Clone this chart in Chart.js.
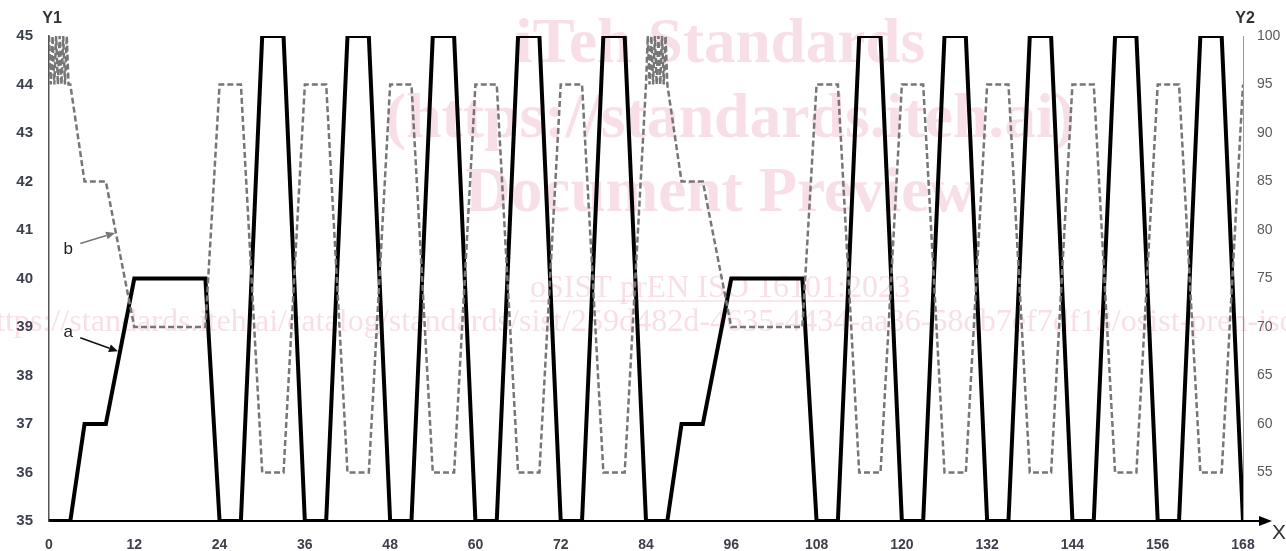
<!DOCTYPE html>
<html>
<head>
<meta charset="utf-8">
<script src="https://cdn.jsdelivr.net/npm/chart.js@4.4.1/dist/chart.umd.min.js"></script>
<style>
  html, body { margin: 0; padding: 0; background: #fff; }
  #wrap { width: 1286px; height: 551px; }
</style>
</head>
<body>
<div id="wrap"><canvas id="c" width="1286" height="551"></canvas></div>
<script>
// ---- Data ----
const xTicks = [0, 12, 24, 36, 48, 60, 72, 84, 96, 108, 120, 132, 144, 156, 168];
const y1Ticks = [35, 36, 37, 38, 39, 40, 41, 42, 43, 44, 45];
const y2Ticks = [55, 60, 65, 70, 75, 80, 85, 90, 95, 100];

// curve a (left axis Y1)
const aX = [0,3,5,8,12,22,24,27,30,33,36,39,42,45,48,51,54,57,60,63,66,69,72,75,78,81,
            84,87,89,92,96,106,108,111,114,117,120,123,126,129,132,135,138,141,144,147,150,153,156,159,162,165,168];
const aY = [35,35,37,37,40,40,35,35,45,45,35,35,45,45,35,35,45,45,35,35,45,45,35,35,45,45,
            35,35,37,37,40,40,35,35,45,45,35,35,45,45,35,35,45,45,35,35,45,45,35,35,45,45,35];

// curve b (right axis Y2)
const bX = [0,0.25,0.5,0.75,1,1.25,1.5,1.75,2,2.25,2.5,2.75,3,
            5,8,12,22,24,27,30,33,36,39,42,45,48,51,54,57,60,63,66,69,72,75,78,81,84,
            84.25,84.5,84.75,85,85.25,85.5,85.75,86,86.25,86.5,86.75,87,
            89,92,96,106,108,111,114,117,120,123,126,129,132,135,138,141,144,147,150,153,156,159,162,165,168];
const bY = [100,95,100,95,100,95,100,95,100,95,100,95,95,
            85,85,70,70,95,95,55,55,95,95,55,55,95,95,55,55,95,95,55,55,95,95,55,55,95,
            100,95,100,95,100,95,100,95,100,95,100,95,
            85,85,70,70,95,95,55,55,95,95,55,55,95,95,55,55,95,95,55,55,95,95,55,55,95];

// annotation anchors (data units: x, Y1)
const labelA = { text: 'a', x: 2.7, y: 38.9, tailX: 4.4, tailY: 38.78, tipX: 9.7, tipY: 38.5 };
const labelB = { text: 'b', x: 2.7, y: 40.6, tailX: 4.4, tailY: 40.72, tipX: 9.3, tipY: 40.94 };

const watermark = {
  title1: 'iTeh Standards',
  title2: '(https://standards.iteh.ai)',
  title3: 'Document Preview',
  doc: 'oSIST prEN ISO 16101:2023',
  url: 'ttps://standards.iteh.ai/catalog/standards/sist/259d482d-4635-4434-aa36-58db7ef7df13/osist-pren-iso'
};

const ptsA = aX.map((x, i) => ({ x, y: aY[i] }));
const ptsB = bX.map((x, i) => ({ x, y: bY[i] }));

function fitFont(ctx, text, weight, family, width) {
  ctx.font = weight + ' 100px ' + family;
  const w = ctx.measureText(text).width;
  const size = 100 * width / w;
  ctx.font = weight + ' ' + size.toFixed(2) + 'px ' + family;
  return size;
}

const watermarkPlugin = {
  id: 'wm',
  beforeDatasetsDraw(chart) {
    const ctx = chart.ctx;
    ctx.save();
    ctx.fillStyle = 'rgba(214, 60, 110, 0.17)';
    ctx.strokeStyle = 'rgba(214, 60, 110, 0.25)';
    ctx.textAlign = 'center';
    ctx.textBaseline = 'alphabetic';
    const fam = '"Liberation Serif", "DejaVu Serif", serif';
    fitFont(ctx, watermark.title1, 'bold', fam, 410);
    ctx.fillText(watermark.title1, 720, 62);
    fitFont(ctx, watermark.title2, 'bold', fam, 690);
    ctx.fillText(watermark.title2, 730, 137);
    fitFont(ctx, watermark.title3, 'bold', fam, 510);
    ctx.fillText(watermark.title3, 720, 211);
    fitFont(ctx, watermark.doc, 'normal', fam, 380);
    ctx.fillText(watermark.doc, 720, 297);
    ctx.lineWidth = 1.2;
    ctx.beginPath(); ctx.moveTo(530, 301); ctx.lineTo(910, 301); ctx.stroke();
    ctx.textAlign = 'left';
    fitFont(ctx, watermark.url, 'normal', fam, 1300);
    ctx.fillText(watermark.url, -4, 331);
    ctx.restore();
  }
};

function arrow(ctx, x1, y1, x2, y2, color, lw) {
  const ang = Math.atan2(y2 - y1, x2 - x1);
  const hl = 9, hw = 4;
  const bx = x2 - hl * Math.cos(ang), by = y2 - hl * Math.sin(ang);
  ctx.save();
  ctx.strokeStyle = color; ctx.fillStyle = color; ctx.lineWidth = lw;
  ctx.beginPath(); ctx.moveTo(x1, y1); ctx.lineTo(bx, by); ctx.stroke();
  ctx.beginPath();
  ctx.moveTo(x2, y2);
  ctx.lineTo(bx + hw * Math.sin(ang), by - hw * Math.cos(ang));
  ctx.lineTo(bx - hw * Math.sin(ang), by + hw * Math.cos(ang));
  ctx.closePath(); ctx.fill();
  ctx.restore();
}

const decoPlugin = {
  id: 'deco',
  afterDraw(chart) {
    const ctx = chart.ctx;
    const xs = chart.scales.x, ys = chart.scales.y;
    const ca = chart.chartArea;
    ctx.save();
    // x axis extension with arrow
    ctx.strokeStyle = '#000'; ctx.fillStyle = '#000'; ctx.lineWidth = 2;
    ctx.beginPath(); ctx.moveTo(ca.right - 1, ca.bottom); ctx.lineTo(ca.right + 18, ca.bottom); ctx.stroke();
    ctx.beginPath();
    ctx.moveTo(ca.right + 29, ca.bottom);
    ctx.lineTo(ca.right + 16, ca.bottom - 5);
    ctx.lineTo(ca.right + 16, ca.bottom + 5);
    ctx.closePath(); ctx.fill();
    // axis names
    ctx.fillStyle = '#333';
    ctx.textAlign = 'center'; ctx.textBaseline = 'middle';
    ctx.font = 'bold 16px "Liberation Sans", Arial, sans-serif';
    ctx.fillText('Y1', ca.left + 3, 19);
    ctx.fillText('Y2', ca.right + 2, 19);
    ctx.font = '21px "Liberation Sans", Arial, sans-serif';
    ctx.fillText('X', ca.right + 36, ca.bottom + 12);
    // annotations
    ctx.font = '17px "Liberation Sans", Arial, sans-serif';
    ctx.fillStyle = '#222';
    [[labelB, '#777', 1.5], [labelA, '#111', 1.5]].forEach(([L, col, lw]) => {
      ctx.fillText(L.text, xs.getPixelForValue(L.x), ys.getPixelForValue(L.y));
      arrow(ctx, xs.getPixelForValue(L.tailX), ys.getPixelForValue(L.tailY),
            xs.getPixelForValue(L.tipX), ys.getPixelForValue(L.tipY), col, lw);
    });
    ctx.restore();
  }
};

new Chart(document.getElementById('c'), {
  type: 'line',
  data: {
    datasets: [
      { label: 'b', data: ptsB, yAxisID: 'y2', borderColor: '#767676', borderWidth: 2.5,
        borderDash: [6, 3], pointRadius: 0, tension: 0, fill: false, borderJoinStyle: 'miter' },
      { label: 'a', data: ptsA, yAxisID: 'y', borderColor: '#000', borderWidth: 4,
        pointRadius: 0, tension: 0, fill: false, borderJoinStyle: 'miter' }
    ]
  },
  options: {
    responsive: false,
    animation: false,
    layout: { padding: { top: 36, left: 0, right: 0, bottom: 0 } },
    plugins: { legend: { display: false }, tooltip: { enabled: false } },
    scales: {
      x: {
        type: 'linear', min: 0, max: 168,
        afterBuildTicks: s => { s.ticks = xTicks.map(v => ({ value: v })); },
        afterFit: s => { s.height = 30; },
        grid: { display: false, drawTicks: false },
        border: { display: true, color: '#000', width: 2 },
        ticks: { padding: 16, color: '#3c3f4c', maxRotation: 0, autoSkip: false,
                 font: { family: '"Liberation Sans", Arial, sans-serif', size: 14, weight: 'bold' } }
      },
      y: {
        position: 'left', min: 35, max: 45,
        afterBuildTicks: s => { s.ticks = y1Ticks.map(v => ({ value: v })); },
        afterFit: s => { s.width = 49; },
        grid: { display: false, drawTicks: false },
        border: { display: true, color: '#555', width: 1.5 },
        ticks: { padding: 16, color: '#3c3f4c', autoSkip: false,
                 font: { family: '"Liberation Sans", Arial, sans-serif', size: 15, weight: 'bold' } }
      },
      y2: {
        position: 'right', min: 50, max: 100,
        afterBuildTicks: s => { s.ticks = y2Ticks.map(v => ({ value: v })); },
        afterFit: s => { s.width = 43; },
        grid: { display: false, drawTicks: false },
        border: { display: true, color: '#999', width: 1 },
        ticks: { padding: 14, color: '#5a5a5a', autoSkip: false,
                 font: { family: '"Liberation Sans", Arial, sans-serif', size: 14 } }
      }
    }
  },
  plugins: [watermarkPlugin, decoPlugin]
});
</script>
</body>
</html>
